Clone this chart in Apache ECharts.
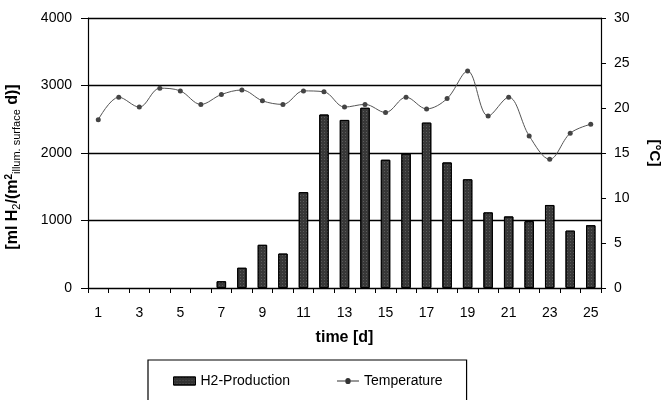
<!DOCTYPE html>
<html><head><meta charset="utf-8">
<script src="https://cdn.jsdelivr.net/npm/echarts@6/dist/echarts.min.js"></script>
<style>html,body{margin:0;padding:0;background:#fff}#c{width:663px;height:400px}</style>
</head><body><div id="c"></div>
<script>
const days = ['1','2','3','4','5','6','7','8','9','10','11','12','13','14','15','16','17','18','19','20','21','22','23','24','25'];
const h2Production = [0,0,0,0,0,0,100,300,640,510,1420,2570,2490,2670,1900,1990,2450,1860,1610,1120,1060,990,1230,850,930];
const temperature = [18.7,21.2,20.1,22.2,21.9,20.4,21.5,22.0,20.8,20.4,21.9,21.8,20.1,20.4,19.5,21.2,19.9,21.05,24.1,19.1,21.2,16.9,14.3,17.2,18.2];
const leftTicks = {min:0, max:4000, interval:1000};
const rightTicks = {min:0, max:30, interval:5};

const FONT = 'Liberation Sans';
const barData = h2Production.map(v => v === 0 ? {value:v, itemStyle:{borderWidth:0, opacity:0}} : v);
const chart = echarts.init(document.getElementById('c'), null, {renderer:'canvas'});
chart.setOption({
  backgroundColor:'#fff',
  animation:false,
  textStyle:{fontFamily:FONT},
  grid:{left:88, right:62, top:18, bottom:112, containLabel:false, outerBoundsMode:'none'},
  legend:{
    left:148, top:360, orient:'horizontal',
    padding:[14,24,14,25], itemGap:47,
    borderColor:'#000', borderWidth:1.2,
    itemWidth:22, itemHeight:8,
    textStyle:{fontFamily:FONT, fontSize:14, color:'#000'},
    data:[
      {name:'H2-Production', icon:'rect', itemStyle:{color:'#333', borderColor:'#000', borderWidth:1}},
      {name:'Temperature', icon:'path://M0,4.6 L7.6,4.6 A2.4,2.4 0 1 1 12.4,4.6 L20,4.6 L20,5.4 L12.4,5.4 A2.4,2.4 0 1 1 7.6,5.4 L0,5.4 Z', itemStyle:{color:'#333'}}
    ]
  },
  xAxis:{
    type:'category', data:days, boundaryGap:true,
    name:'time [d]', nameLocation:'middle', nameGap:42,
    nameTextStyle:{fontFamily:FONT, fontSize:16, fontWeight:'bold', color:'#000'},
    axisLine:{lineStyle:{color:'#000', width:1.2}},
    axisTick:{show:true, interval:0, length:5, lineStyle:{color:'#000'}},
    axisLabel:{interval:1, margin:18, fontSize:14, color:'#000', fontFamily:FONT},
    splitLine:{show:false}
  },
  yAxis:[
    {
      type:'value', min:leftTicks.min, max:leftTicks.max, interval:leftTicks.interval,
      position:'left',
      name:'{b|[ml H}{s|2}{b|/(m}{sup|2}{s|illum. surface}{b| d)]}',
      nameLocation:'middle', nameGap:66, nameRotate:90,
      nameTextStyle:{
        fontFamily:FONT, color:'#000', padding:[0,28,0,0],
        rich:{
          b:{fontFamily:FONT, fontSize:16, fontWeight:'bold', color:'#000', lineHeight:18, verticalAlign:'middle'},
          s:{fontFamily:FONT, fontSize:11, color:'#000', lineHeight:18, verticalAlign:'bottom', padding:[7,0,0,0]},
          sup:{fontFamily:FONT, fontSize:10, fontWeight:'bold', color:'#000', lineHeight:18, verticalAlign:'top', padding:[0,0,7,0]}
        }
      },
      axisLine:{show:true, lineStyle:{color:'#000', width:1.2}},
      axisTick:{show:true, length:7, lineStyle:{color:'#000'}},
      axisLabel:{margin:16, fontSize:14, color:'#000', fontFamily:FONT, formatter:v => String(v)},
      splitLine:{show:true, lineStyle:{color:'#000', width:1.3}}
    },
    {
      type:'value', min:rightTicks.min, max:rightTicks.max, interval:rightTicks.interval,
      position:'right',
      name:'[°C]', nameLocation:'middle', nameGap:46, nameRotate:-90,
      nameTextStyle:{fontFamily:FONT, fontSize:15, fontWeight:'bold', color:'#000'},
      axisLine:{show:true, lineStyle:{color:'#000', width:1.2}},
      axisTick:{show:true, length:5, lineStyle:{color:'#000'}},
      axisLabel:{margin:13, fontSize:14, color:'#000', fontFamily:FONT, formatter:v => String(v)},
      splitLine:{show:false}
    }
  ],
  series:[
    {
      name:'H2-Production', type:'bar', yAxisIndex:0, data:barData,
      barWidth:'46%',
      itemStyle:{color:'#383838', borderColor:'#000', borderWidth:1,
        decal:{symbol:'rect', symbolSize:1, color:'rgba(255,255,255,0.18)', dashArrayX:[[1,2]], dashArrayY:[1,2], rotation:0}}
    },
    {
      name:'Temperature', type:'line', yAxisIndex:1, data:temperature,
      smooth:0.35, symbol:'circle', symbolSize:5,
      lineStyle:{color:'#555', width:1},
      itemStyle:{color:'#444'},
      z:5
    }
  ]
});
</script></body></html>
